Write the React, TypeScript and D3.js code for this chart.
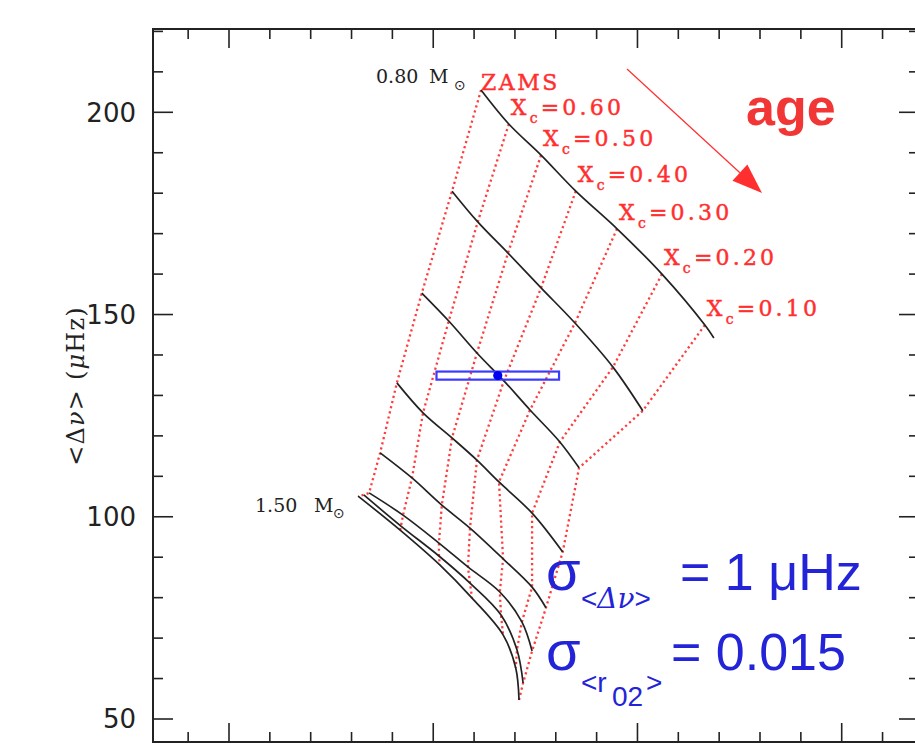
import React from "react";
import * as d3 from "d3";

// ---- data ----
const massLabels = ["0.80", "0.90", "1.00", "1.10", "1.20", "1.30", "1.40", "1.50"];
const xcLabels = ["ZAMS", "0.60", "0.50", "0.40", "0.30", "0.20", "0.10"];

// each track: points at ZAMS, Xc = 0.60 ... 0.10 (0.80 Msun track runs slightly past 0.10)
const r02_080 = [0.0883, 0.0815, 0.0736, 0.0651, 0.055, 0.044, 0.0335, 0.0313];
const dnu_080 = [205.5, 197.1, 189.4, 180.5, 171.2, 160.0, 147.4, 144.2];
const r02_090 = [0.0954, 0.0891, 0.0817, 0.0736, 0.0653, 0.056, 0.0487];
const dnu_090 = [180.5, 172.9, 165.2, 156.6, 147.9, 137.0, 126.2];
const r02_100 = [0.1028, 0.0962, 0.0893, 0.0827, 0.0763, 0.069, 0.0643];
const dnu_100 = [155.3, 148.4, 140.5, 133.6, 126.4, 118.5, 112.1];
const r02_110 = [0.1089, 0.1025, 0.0954, 0.0893, 0.0839, 0.0758, 0.0683];
const dnu_110 = [133.1, 125.7, 119.5, 114.0, 108.6, 100.9, 91.3];
const r02_120 = [0.113, 0.1052, 0.0979, 0.091, 0.0829, 0.0758, 0.0724];
const dnu_120 = [115.8, 109.6, 102.9, 97.2, 89.6, 82.6, 77.5];
const r02_130 = [0.1157, 0.1074, 0.0986, 0.0915, 0.0837, 0.0783, 0.0758];
const dnu_130 = [105.9, 100.4, 93.5, 87.6, 81.4, 74.0, 66.8];
const r02_140 = [0.117, 0.1079, 0.0986, 0.091, 0.0834, 0.0795, 0.078];
const dnu_140 = [105.4, 97.7, 90.3, 83.6, 75.7, 67.1, 58.9];
const r02_150 = [0.1184, 0.1081, 0.0984, 0.0905, 0.0829, 0.0798, 0.079];
const dnu_150 = [105.1, 96.7, 88.1, 79.9, 70.8, 62.6, 54.7];

const starR02 = 0.0842;
const starDnu = 134.9;
const sigmaR02 = 0.015;
const sigmaDnu = 1;

const yTickLabels = ["50", "100", "150", "200"];
const yMajor = [50, 100, 150, 200];

const tracks = [
  [r02_080, dnu_080],
  [r02_090, dnu_090],
  [r02_100, dnu_100],
  [r02_110, dnu_110],
  [r02_120, dnu_120],
  [r02_130, dnu_130],
  [r02_140, dnu_140],
  [r02_150, dnu_150],
];

const RED = "#ff2f2f";
const DOT = "#ff3d3d";
const BLUE = "#2323d8";
const INK = "#222";

export default function App() {
  const W = 915, H = 746;
  const L = 153, R = 919, T = 29, B = 742;
  const xS = d3.scaleLinear().domain([0.15, 0.0]).range([229, 841.7]);
  const yS = d3.scaleLinear().domain([50, 200]).range([719, 112.3]);

  const xMinV = xS.invert(R), xMaxV = xS.invert(L);
  const xTicks = d3.range(-5, 40).map((i) => i / 100).filter((v) => v >= xMinV && v <= xMaxV);
  const yTicks = d3.range(40, 240, 10).filter((v) => yS(v) >= T && yS(v) <= B);

  const trackLine = d3
    .line<[number, number]>()
    .x((d) => xS(d[0]))
    .y((d) => yS(d[1]))
    .curve(d3.curveCatmullRom.alpha(0.5));
  const isoLine = d3
    .line<[number, number]>()
    .x((d) => xS(d[0]))
    .y((d) => yS(d[1]));

  const trackPts = tracks.map(([r, d]) => r.map((v, i) => [v, d[i]] as [number, number]));
  const isoPts = xcLabels.map((_, k) => tracks.map(([r, d]) => [r[k], d[k]] as [number, number]));

  // arrow geometry
  const ax0 = 627, ay0 = 69, ax1 = 762, ay1 = 193;
  const len = Math.hypot(ax1 - ax0, ay1 - ay0);
  const ux = (ax1 - ax0) / len, uy = (ay1 - ay0) / len;
  const headL = 30, headW = 11;
  const bx = ax1 - ux * headL, by = ay1 - uy * headL;
  const head = `${ax1},${ay1} ${bx - uy * headW},${by + ux * headW} ${bx + uy * headW},${by - ux * headW}`;

  const isMajorX = (v: number) => Math.abs(Math.round(v * 20) - v * 20) < 1e-6;

  return (
    <svg
      width={W}
      height={H}
      style={{ position: "absolute", left: 0, top: 0, background: "#fff" }}
    >
      <rect x={0} y={0} width={W} height={H} fill="#fff" />
      {/* iso-Xc lines */}
      {isoPts.map((pts, k) => (
        <path
          key={"iso" + k}
          d={isoLine(pts) || ""}
          fill="none"
          stroke={DOT}
          strokeWidth={2.3}
          strokeDasharray="2.2 3.1"
        />
      ))}
      {/* tracks */}
      {trackPts.map((pts, k) => (
        <path key={"tr" + k} d={trackLine(pts) || ""} fill="none" stroke={INK} strokeWidth={1.7} />
      ))}

      {/* observation box */}
      <rect
        x={xS(starR02 + sigmaR02)}
        y={yS(starDnu + sigmaDnu)}
        width={xS(starR02 - sigmaR02) - xS(starR02 + sigmaR02)}
        height={yS(starDnu - sigmaDnu) - yS(starDnu + sigmaDnu)}
        fill="none"
        stroke="#3b3bff"
        strokeWidth={2.2}
      />
      <circle cx={xS(starR02)} cy={yS(starDnu)} r={4.6} fill="#0000f0" />

      {/* frame */}
      <rect x={L} y={T} width={R - L} height={B - T} fill="none" stroke={INK} strokeWidth={2} />
      {xTicks.map((v) => {
        const x = xS(v);
        const l = isMajorX(v) ? 19 : 10;
        return (
          <g key={"xt" + v}>
            <line x1={x} x2={x} y1={T} y2={T + l} stroke={INK} strokeWidth={1.6} />
            <line x1={x} x2={x} y1={B} y2={B - l} stroke={INK} strokeWidth={1.6} />
          </g>
        );
      })}
      {yTicks.map((v) => {
        const y = yS(v);
        const l = v % 50 === 0 ? 20 : 10;
        return (
          <g key={"yt" + v}>
            <line x1={L} x2={L + l} y1={y} y2={y} stroke={INK} strokeWidth={1.6} />
            <line x1={R} x2={R - l} y1={y} y2={y} stroke={INK} strokeWidth={1.6} />
          </g>
        );
      })}
      {yMajor.map((v, i) => (
        <text
          key={"yl" + v}
          x={136}
          y={yS(v)}
          dy="0.36em"
          textAnchor="end"
          fontFamily="DejaVu Sans"
          fontSize={26}
          fill={INK}
        >
          {yTickLabels[i]}
        </text>
      ))}
      <text
        transform={`translate(84,${386}) rotate(-90)`}
        textAnchor="middle"
        fontFamily="DejaVu Serif"
        fontSize={24}
        letterSpacing={1.2}
        fill={INK}
      >
        {"<Δ"}
        <tspan fontStyle="italic">ν</tspan>
        {"> ("}
        <tspan fontStyle="italic">μ</tspan>
        {"Hz)"}
      </text>

      {/* mass labels */}
      <text x={376} y={83} fontFamily="DejaVu Serif" fontSize={19} fill={INK}>
        {massLabels[0]}
      </text>
      <text x={429} y={83} fontFamily="DejaVu Serif" fontSize={19} fill={INK}>M</text>
      <text x={454} y={90} fontFamily="DejaVu Sans" fontSize={14} fill={INK}>⊙</text>
      <text x={255} y={512} fontFamily="DejaVu Serif" fontSize={19} fill={INK}>
        {massLabels[7]}
      </text>
      <text x={314} y={512} fontFamily="DejaVu Serif" fontSize={19} fill={INK}>M</text>
      <text x={333} y={518} fontFamily="DejaVu Sans" fontSize={14} fill={INK}>⊙</text>

      {/* Xc labels anchored at the 0.80 Msun track */}
      <g stroke={RED} strokeWidth={0.45}>
        {xcLabels.map((lab, k) => {
          const px = xS(r02_080[k]);
          const py = yS(dnu_080[k]);
          if (k === 0) {
            return (
              <text key="zams" x={px} y={py - 0.5} fontFamily="DejaVu Serif" fontSize={22} letterSpacing={2.5} fill={RED}>
                {lab}
              </text>
            );
          }
          return (
            <text key={"xc" + k} x={px + 2} y={py - 9} fontFamily="DejaVu Serif" fontSize={22} letterSpacing={3.2} fill={RED}>
              X
              <tspan fontSize={14} dy={8}>c</tspan>
              <tspan dy={-8}>{"=" + lab}</tspan>
            </text>
          );
        })}
      </g>

      {/* age arrow */}
      <line x1={ax0} y1={ay0} x2={bx} y2={by} stroke={RED} strokeWidth={1.2} />
      <polygon points={head} fill={RED} />
      <text x={746} y={125} fontFamily="Liberation Sans" fontWeight="bold" fontSize={52} fill="#f23535">
        age
      </text>

      {/* sigma annotations */}
      <g fill={BLUE} fontFamily="Liberation Sans">
        <text x={546} y={590} fontSize={56}>σ</text>
        <text x={581} y={608} fontSize={28}>
          {"<"}
          <tspan fontFamily="DejaVu Serif" fontStyle="italic">Δν</tspan>
          {">"}
        </text>
        <text x={680} y={590} fontSize={52}>= 1 μHz</text>

        <text x={546} y={670} fontSize={56}>σ</text>
        <text x={581} y={692} fontSize={28}>{"<r"}</text>
        <text x={612} y={706} fontSize={28}>02</text>
        <text x={646} y={692} fontSize={28}>{">"}</text>
        <text x={671} y={670} fontSize={52}>= 0.015</text>
      </g>
    </svg>
  );
}
